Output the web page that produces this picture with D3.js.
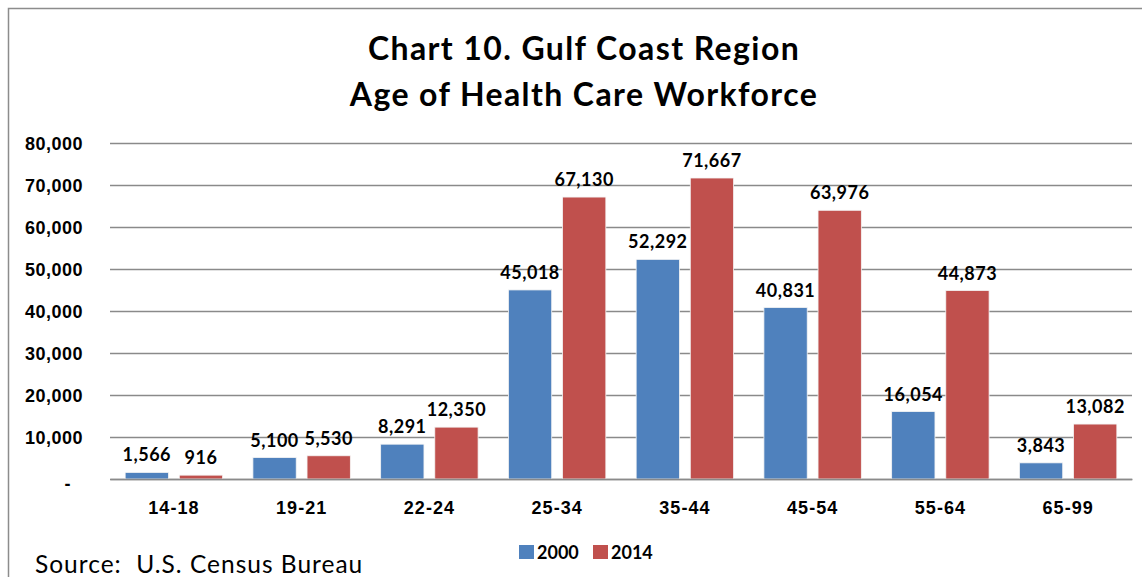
<!DOCTYPE html>
<html><head><meta charset="utf-8">
<script src="https://cdn.jsdelivr.net/npm/d3@7"></script>
<style>
html,body{margin:0;padding:0;background:#fff;}
svg{display:block;font-family:Lato,"Open Sans",sans-serif;}
</style></head>
<body>
<svg id="chart" width="1142" height="577"></svg>
<script>
const categories = ["14-18","19-21","22-24","25-34","35-44","45-54","55-64","65-99"];
const seriesNames = ["2000","2014"];
const values2000 = [1566,5100,8291,45018,52292,40831,16054,3843];
const values2014 = [916,5530,12350,67130,71667,63976,44873,13082];
const yTicks = [0,10000,20000,30000,40000,50000,60000,70000,80000];
const titleLines = ["Chart 10. Gulf Coast Region","Age of Health Care Workforce"];
const sourceText = "Source:  U.S. Census Bureau";
const colors = ["#4F81BD","#C0504D"];

const svg = d3.select("#chart");
const W = 1142, H = 577;
const m = {left:110, right:1132, top:143, bottom:479};

// frame
svg.append("path")
  .attr("d", `M8.5,${H+2} L8.5,8.5 L${W+2},8.5`)
  .attr("fill","none").attr("stroke","#8c8c8c").attr("stroke-width",1.5);

const x = d3.scaleBand().domain(categories).range([m.left,m.right]).paddingInner(0).paddingOuter(0);
const y = d3.scaleLinear().domain([0,80000]).range([m.bottom,m.top]);

const step = x.bandwidth();
const barW = step/ (2 + 0.25 + 0.7) ;
const innerGap = barW*0.25;
const outer = barW*0.35;
const x1 = d3.scaleOrdinal().domain(seriesNames).range([outer, outer+barW+innerGap]);

// gridlines via axis
const yAxis = d3.axisLeft(y).tickValues(yTicks)
  .tickSize(-(m.right-m.left)).tickPadding(27)
  .tickFormat(d => d===0 ? "-" : d3.format(",")(d));
const gy = svg.append("g").attr("transform",`translate(${m.left},0)`).call(yAxis);
gy.select(".domain").remove();
gy.selectAll(".tick line").attr("stroke","#8a8a8a").attr("stroke-width",1.5);
gy.selectAll(".tick text").attr("font-size",18).attr("font-weight","bold").attr("fill","#000")
  .attr("letter-spacing",0.5).attr("dy","0.35em");
gy.selectAll(".tick text").filter(d=>d===0).attr("dx",-12).attr("dy","0.6em");

// title
svg.append("g").selectAll("text").data(titleLines).join("text")
  .attr("x",584).attr("y",(d,i)=>60+i*46)
  .attr("text-anchor","middle").attr("font-size",32).attr("font-weight","bold").attr("fill","#000")
  .attr("letter-spacing",1.4)
  .text(d=>d);

const series = [values2000, values2014];
series.forEach((vals,si) => {
  const g = svg.append("g");
  g.selectAll("rect").data(vals).join("rect")
    .attr("x",(d,i)=>x(categories[i])+x1(seriesNames[si]))
    .attr("y",d=>y(d))
    .attr("width",barW)
    .attr("height",d=>y(0)-y(d))
    .attr("fill",colors[si])
    .attr("stroke","#f4f4f4").attr("stroke-width",0.8);
  g.selectAll("text").data(vals).join("text")
    .attr("x",(d,i)=>x(categories[i])+x1(seriesNames[si])+barW/2)
    .attr("y",d=>y(d)-11)
    .attr("text-anchor","middle").attr("font-size",18).attr("font-weight","bold").attr("fill","#000")
    .attr("letter-spacing",0.5)
    .text(d=>d3.format(",")(d));
});

// x axis
const xAxis = d3.axisBottom(x).tickSize(0).tickPadding(22);
const gx = svg.append("g").attr("transform",`translate(0,${m.bottom})`).call(xAxis);
gx.select(".domain").attr("stroke","#8a8a8a").attr("stroke-width",1.5);
gx.selectAll(".tick text").attr("font-size",18).attr("font-weight","bold").attr("fill","#000")
  .attr("letter-spacing",1);

// legend
const lg = svg.append("g");
const legX = [519, 593];
seriesNames.forEach((s,i)=>{
  lg.append("rect").attr("x",legX[i]).attr("y",545).attr("width",15).attr("height",14).attr("fill",colors[i]);
  lg.append("text").attr("x",legX[i]+18).attr("y",559).attr("font-size",18).attr("font-weight","bold").attr("fill","#000").text(s);
});

// source
svg.append("text").attr("x",35).attr("y",573).attr("font-size",24.5).attr("fill","#000")
  .attr("letter-spacing",1).style("white-space","pre").text(sourceText);
</script>
</body></html>
